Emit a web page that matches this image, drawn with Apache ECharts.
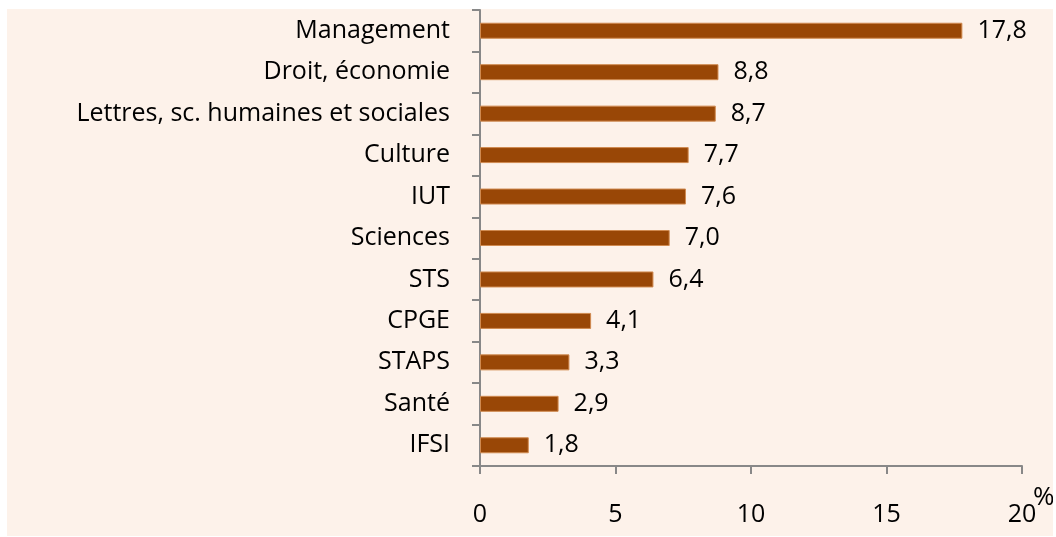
<!DOCTYPE html>
<html>
<head>
<meta charset="utf-8">
<script src="https://cdn.jsdelivr.net/npm/echarts@6/dist/echarts.min.js"></script>
<style>
html,body{margin:0;padding:0;background:#fff;}
.box{position:absolute;left:7px;top:9px;width:1046px;height:527px;background:#fdf2ea;}
</style>
</head>
<body>
<div class="box"><div class="chart" style="width:1046px;height:527px;"></div></div>
<script>
// filières (de bas en haut)
var filieres = ['IFSI', 'Santé', 'STAPS', 'CPGE', 'STS', 'Sciences', 'IUT', 'Culture', 'Lettres, sc. humaines et sociales', 'Droit, économie', 'Management'];
var valeurs = [1.8, 2.9, 3.3, 4.1, 6.4, 7.0, 7.6, 7.7, 8.7, 8.8, 17.8];
var ticksX = [0, 5, 10, 15, 20];

(function(){
  var myChart = echarts.init(document.querySelector('.chart'));
  var police = 'Open Sans';
  var option = {
    animation: false,
    grid: {
      left: 473,
      top: 1,
      width: 542,
      height: 456
    },
    xAxis: {
      type: 'value',
      min: ticksX[0],
      max: ticksX[ticksX.length - 1],
      interval: 5,
      axisLine: { show: true, lineStyle: { color: '#888', width: 2 } },
      axisTick: { show: true, length: 8, lineStyle: { color: '#888', width: 2 } },
      splitLine: { show: false },
      axisLabel: { color: '#000', fontSize: 25, fontFamily: police, margin: 36 }
    },
    yAxis: {
      type: 'category',
      data: filieres,
      axisLine: { lineStyle: { color: '#888', width: 2 } },
      axisTick: { show: true, length: 8, lineStyle: { color: '#888', width: 2 } },
      axisLabel: { color: '#000', fontSize: 25, fontFamily: police, margin: 30 }
    },
    graphic: [{
      type: 'text',
      left: 1026,
      top: 476,
      style: { text: '%', fontSize: 26, fontFamily: police, fill: '#000' }
    }],
    series: [{
      type: 'bar',
      data: valeurs,
      barWidth: 16,
      itemStyle: { color: '#994706', borderColor: '#d08a50', borderWidth: 1 },
      label: {
        show: true,
        position: 'right',
        distance: 15,
        color: '#000',
        fontSize: 25,
        fontFamily: police,
        formatter: function(p){ return p.value.toFixed(1).replace('.', ','); }
      }
    }]
  };
  myChart.setOption(option);
})();
</script>
</body>
</html>
